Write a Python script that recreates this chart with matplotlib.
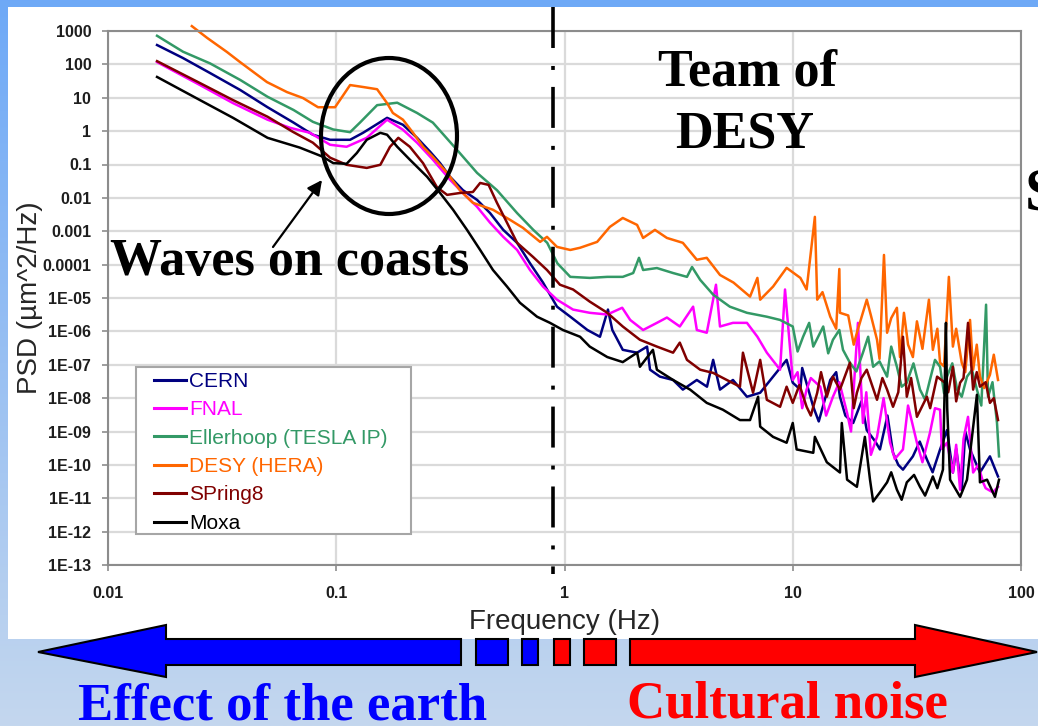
import numpy as np
import matplotlib
matplotlib.use('Agg')
import matplotlib.pyplot as plt
from matplotlib.colors import LinearSegmentedColormap
from matplotlib.patches import Ellipse, Polygon, Rectangle

plt.rcParams['font.family'] = ['Liberation Sans', 'DejaVu Sans']

W, H = 1038, 726

# ---- data (frequency in Hz, PSD in um^2/Hz) ----
cern_f = [0.0164, 0.0213, 0.028, 0.038, 0.050, 0.065, 0.079, 0.094, 0.115, 0.131,
          0.167, 0.196, 0.226, 0.258, 0.285, 0.315, 0.359, 0.414, 0.472, 0.539,
          0.62, 0.706, 0.805, 0.927, 1.06, 1.26, 1.43, 1.55, 1.62, 1.8, 2.08, 2.3,
          2.37, 2.62, 2.99, 3.3, 3.8, 4.21, 4.48, 4.8, 5.47, 6.3, 7.2, 8.2, 9.4, 10,
          10.8, 12.3, 14.6, 16.1, 18.4, 21.1, 24.1, 27.5, 30.4, 33.6, 38.7, 44.2,
          47.4, 50.3, 55, 59.8, 66.1, 73.1, 79.3]
cern_p = [380, 155, 55, 17, 5.2, 1.8, 0.78, 0.55, 0.55, 0.89,
          2.5, 1.55, 0.63, 0.24, 0.11, 0.043, 0.017, 0.0087, 0.0035, 0.0011,
          4.5e-4, 1.1e-4, 2.9e-5, 5.5e-6, 2.75e-6, 1.1e-6, 6.9e-7, 4.5e-6, 1.1e-6, 2.8e-7, 2.3e-7, 3.5e-7,
          7.1e-8, 4.4e-8, 3.5e-8, 1.8e-8, 3.5e-8, 2.2e-8, 1.4e-7, 1.8e-8, 3.5e-8, 1.1e-8, 1.45e-8, 4.4e-8, 1.4e-7, 2.9e-8,
          1.8e-8, 5.5e-9, 3.5e-8, 1.1e-8, 1.8e-9, 1.1e-9, 2.9e-10, 2.3e-10, 7.2e-11, 1.8e-10, 1.45e-10, 2.9e-10,
          1.1e-9, 5.9e-11, 1.8e-11, 2.9e-10, 5.9e-11, 1.8e-10, 4.5e-11]
# extra points on the noisy part of the trace
cern_band_f = [11.0, 13.0, 15.5, 17.0, 20.0, 23.0, 26.0, 29.0, 36.0, 41.0, 52.0, 57.0]
cern_band_p = [8e-8, 2e-9, 6e-8, 3e-9, 8e-9, 5e-10, 3e-9, 1e-10, 5e-10, 6e-11, 3e-10, 1e-9]

fnal_f = [0.0164, 0.0253, 0.0353, 0.050, 0.0627, 0.0767, 0.094, 0.111, 0.136, 0.167,
          0.196, 0.226, 0.265, 0.315, 0.359, 0.414, 0.472, 0.539, 0.62, 0.706,
          0.805, 0.927, 1.09, 1.29, 1.54, 1.79, 1.94, 2.21, 2.54, 2.81, 3.2, 3.66,
          3.8, 4.2, 4.61, 4.8, 5.47, 6.3, 7.0, 7.7, 8.8, 9.25, 10, 11.5, 13.2, 15,
          17.3, 19.3, 20.3, 23.4, 26.7, 30.4, 35, 39.9, 44.2, 47.4, 50.3, 54.1,
          58.6, 61.7, 68.2, 75.3, 79.3]
fnal_p = [117, 24, 6.9, 2.2, 1.26, 0.89, 0.39, 0.34, 0.63, 2.2,
          1.1, 0.45, 0.14, 0.035, 0.014, 0.0054, 0.0018, 6.8e-4, 2.75e-4, 6.9e-5,
          2.2e-5, 8.9e-6, 4.5e-6, 3.6e-6, 3.2e-6, 5.1e-6, 2.2e-6, 1.1e-6, 1.8e-6, 2.6e-6, 1.4e-6, 5.5e-6,
          1.1e-6, 9.1e-7, 2.5e-5, 1.4e-6, 1.8e-6, 1.8e-6, 6.9e-7, 2.3e-7, 7.1e-8, 1.8e-5, 3.5e-8, 1.8e-8, 2.2e-8, 1.1e-8,
          3.6e-9, 1.8e-6, 1.8e-9, 6.9e-10, 4.6e-10, 2.9e-10, 4.6e-10, 9.1e-10, 4.5e-9, 4.6e-10, 5.9e-11, 1.8e-11,
          2.75e-9, 5.9e-11, 3e-11, 1.5e-11, 2.2e-11]
fnal_band_f = [10.5, 11.0, 12.0, 14.0, 16.0, 18.0, 21.0, 22.0, 25.0, 28.0, 32.0, 37.0,
               42.0, 45.0, 52.0, 56.0, 65.0, 70.0]
fnal_band_p = [6e-8, 5e-9, 4e-8, 3e-9, 3e-8, 1e-9, 1.5e-8, 2e-10, 1e-8, 1.5e-10, 6e-9, 1.2e-10,
               5e-9, 3e-10, 4e-10, 6e-10, 1e-10, 2e-11]

eller_f = [0.0164, 0.0213, 0.028, 0.038, 0.050, 0.065, 0.079, 0.097, 0.115, 0.127,
           0.151, 0.185, 0.226, 0.265, 0.338, 0.414, 0.506, 0.62, 0.73, 0.84,
           0.93, 1.06, 1.29, 1.54, 1.8, 2.0, 2.12, 2.21, 2.54, 2.99, 3.44, 3.62,
           3.93, 4.48, 5.3, 6.3, 7.7, 8.8, 10, 11.1, 12.3, 13.6, 15, 16.6, 17.8,
           20.3, 22.5, 25.9, 28.6, 31.6, 36.1, 39.9, 44.2, 47.4, 52.5, 58, 64.1,
           70.3, 71.7, 78.5, 80.1]
eller_p = [720, 240, 107, 34, 10.7, 4.3, 1.9, 1.12, 0.93, 1.8,
           6.0, 7.1, 3.5, 1.8, 0.275, 0.056, 0.017, 0.0035, 0.0011, 4.5e-4,
           1.1e-4, 4.3e-5, 4e-5, 4.3e-5, 4.3e-5, 5.6e-5, 1.6e-4, 6.9e-5, 7.9e-5, 5.6e-5, 4.3e-5, 8.5e-5,
           3.5e-5, 1.26e-5, 5.5e-6, 3.6e-6, 2.75e-6, 2.2e-6, 1.4e-6, 6.9e-7, 3.5e-7, 1.4e-6, 5.6e-7, 2.8e-7, 1.15e-7,
           2.3e-7, 8.7e-8, 4.4e-8, 8.7e-8, 2.9e-8, 1.8e-8, 3.5e-8, 8.7e-8, 4.4e-8, 1.8e-8, 4.4e-8, 1.8e-8,
           6.3e-6, 1.1e-8, 1.8e-9, 1.8e-10]
eller_band_f = [10.5, 11.8, 14.3, 16.0, 19.0, 21.4, 24.0, 27.0, 30.0, 33.8, 38.0, 42.0,
                46.0, 50.0, 55.0, 61.0, 67.0, 75.0]
eller_band_p = [2.5e-7, 1.8e-6, 2.2e-7, 1.1e-6, 6.3e-8, 6.9e-7, 1.26e-7, 3.5e-7, 2.2e-8, 1.1e-7, 9e-9, 1.4e-7,
                1.4e-8, 1.1e-7, 1.1e-8, 7e-8, 6e-9, 3e-8]

desy_f = [0.0233, 0.0272, 0.0332, 0.0379, 0.0497, 0.0608, 0.0715, 0.0832, 0.0988, 0.115,
          0.131, 0.151, 0.167, 0.177, 0.196, 0.217, 0.24, 0.265, 0.306, 0.348,
          0.397, 0.486, 0.577, 0.658, 0.782, 0.838, 0.927, 1.06, 1.17, 1.39, 1.58,
          1.8, 2.08, 2.21, 2.49, 2.81, 3.3, 3.8, 4.2, 4.8, 5.5, 6.5, 7.0, 7.2, 8.2,
          9.4, 10.8, 11.5, 12.5, 12.8, 14.6, 16.0, 16.1, 19.1, 21.1, 23.4, 25.1,
          25.9, 28.6, 29.5, 30.7, 33.6, 39.5, 41.1, 44.2, 48.3, 50.3, 55, 59.8,
          61.7, 66.1, 73.1, 79.3]
desy_p = [1400, 620, 235, 117, 29.5, 14.8, 9.8, 5.2, 5.2, 24,
          21, 18, 6.9, 3.5, 2.2, 0.89, 0.34, 0.17, 0.056, 0.017,
          0.0071, 0.0044, 0.0022, 0.00126, 4.8e-4, 6.8e-4, 3.4e-4, 2.75e-4, 3.2e-4, 4.8e-4, 1.35e-3,
          2.5e-3, 1.55e-3, 6.3e-4, 1.1e-3, 6.3e-4, 4.5e-4, 1.4e-4, 1.6e-4, 4.9e-5, 2.9e-5, 1.1e-5, 4e-5, 8.9e-6, 2.2e-5,
          8e-5, 4e-5, 1.8e-5, 2.7e-3, 8.9e-6, 2.75e-6, 7.4e-5, 3.6e-6, 9.1e-7, 8.9e-6, 5.6e-7, 1.95e-4,
          9.1e-7, 5.1e-6, 1.7e-7, 3.6e-6, 1.7e-7, 8.9e-6, 2.8e-7, 1.15e-7, 4.3e-5, 3.5e-7, 1.15e-7, 2.2e-6,
          7.1e-8, 4.4e-8, 5e-8, 3.5e-8]
desy_band_f = [13.5, 15.5, 17.5, 18.5, 22.0, 24.0, 27.0, 32.0, 35.0, 37.0, 43.0, 46.0,
               52.0, 57.0, 64.0, 69.0, 76.0]
desy_band_p = [1.5e-5, 1.2e-6, 3e-6, 4e-7, 3e-6, 1.5e-7, 2.5e-6, 4e-7, 2e-6, 3e-7, 1.2e-6, 9e-8,
               1.2e-6, 6e-8, 4e-7, 2e-8, 2e-7]

spring_f = [0.0164, 0.0253, 0.0353, 0.050, 0.0646, 0.079, 0.094, 0.111, 0.136, 0.156,
            0.172, 0.187, 0.21, 0.24, 0.276, 0.306, 0.348, 0.397, 0.427, 0.465,
            0.506, 0.56, 0.62, 0.728, 0.838, 0.955, 1.09, 1.29, 1.54, 1.8, 2.14,
            2.54, 2.99, 3.2, 3.44, 3.93, 4.48, 5.14, 5.87, 6.05, 6.7, 7.2, 7.7, 8.8,
            9.4, 10, 11.5, 12.8, 14.1, 15, 16.1, 17.8, 19.1, 21.1, 23.4, 25.9, 27.5,
            30.4, 31.6, 35, 38.7, 42.9, 46.4, 50.3, 54.1, 58.6, 61.7, 66.1, 73.1, 79.3]
spring_p = [125, 27.5, 8.5, 2.7, 0.95, 0.45, 0.16, 0.098, 0.079, 0.098,
            0.34, 0.63, 0.34, 0.11, 0.021, 0.0123, 0.014, 0.015, 0.028, 0.0245,
            0.0071, 0.0018, 4.5e-4, 1.7e-4, 6.9e-5, 2.5e-5, 1.8e-5, 7.8e-6, 3.6e-6, 1.4e-6, 5.6e-7,
            3.5e-7, 2.3e-7, 4.6e-7, 1.4e-7, 7.1e-8, 5.7e-8, 3.5e-8, 2.2e-8, 2.3e-7, 1.45e-8, 1.4e-7, 8.9e-9, 5.5e-9,
            2.2e-8, 7.2e-9, 5.5e-9, 1.45e-8, 1.1e-8, 4.4e-8, 1.8e-8, 1.15e-7, 1.45e-8, 7.1e-8, 8.9e-9, 1.8e-8, 5.5e-9,
            6.9e-7, 1.1e-8, 2.75e-9, 1.1e-8, 4.4e-8, 2.9e-8, 8.7e-8, 2.9e-8, 1.8e-6, 1.8e-8, 2.2e-8, 7.2e-9, 2.2e-9]
spring_band_f = [10.7, 12.0, 13.3, 18.5, 20.0, 24.7, 29.0, 33.0, 40.0, 48.0, 52.0, 56.0,
                 64.0, 70.0, 76.0]
spring_band_p = [2.5e-8, 3e-9, 6e-8, 5e-9, 4e-8, 4e-8, 1.5e-8, 4e-8, 5e-9, 1.5e-8, 8e-9, 4e-8,
                 6e-8, 3e-8, 1e-8]

moxa_f = [0.0164, 0.0253, 0.0353, 0.050, 0.0693, 0.0875, 0.097, 0.111, 0.123, 0.136,
          0.156, 0.167, 0.185, 0.21, 0.25, 0.285, 0.325, 0.374, 0.427, 0.486,
          0.56, 0.638, 0.758, 0.864, 0.984, 1.17, 1.29, 1.54, 1.8, 2.08, 2.14,
          2.44, 2.54, 2.99, 3.55, 4.2, 4.94, 5.87, 6.5, 7.05, 7.2, 8.2, 9.4, 10,
          10.4, 12.3, 12.5, 14.1, 16.1, 16.4, 17.3, 19.1, 20.7, 21.8, 24.1, 25.9,
          28.6, 31.6, 36.1, 41.1, 45.5, 46.9, 48.9, 54.1, 58, 64.1, 66.1, 71, 76.9, 80.1]
moxa_p = [42, 8.5, 2.5, 0.63, 0.32, 0.17, 0.11, 0.105, 0.22, 0.55,
          0.89, 0.78, 0.34, 0.14, 0.043, 0.014, 0.0044, 0.0011, 2.75e-4, 6.9e-5,
          2.2e-5, 7.2e-6, 2.75e-6, 1.8e-6, 1.1e-6, 6.9e-7, 3.5e-7, 1.7e-7, 1.2e-7, 2.3e-7, 8.7e-8,
          2.8e-7, 7.1e-8, 3.5e-8, 1.8e-8, 7.2e-9, 4.5e-9, 2.2e-9, 2.2e-9, 1.1e-8, 1.4e-9, 6.9e-10, 4.6e-10, 1.8e-9,
          2.9e-10, 2.3e-10, 6.9e-10, 1.2e-10, 5.9e-11, 1.8e-9, 3.6e-11, 2.2e-11, 6.9e-10, 3.6e-11, 1.5e-11, 3e-11,
          1.8e-11, 3e-11, 2.2e-11, 4.5e-11, 7.2e-11, 1.8e-6, 3.6e-11, 1.1e-11, 3.6e-11, 1.26e-8, 3e-11, 3.6e-11, 1.1e-11, 3.6e-11]
moxa_band_f = [22.5, 27.0, 30.0, 34.0, 38.0, 43.0, 46.3, 47.5]
moxa_band_p = [8e-12, 6e-11, 9e-12, 5e-11, 1.2e-11, 2e-11, 2e-8, 5e-9]

names = ['CERN', 'FNAL', 'Ellerhoop (TESLA IP)', 'DESY (HERA)', 'SPring8', 'Moxa']
colors = ['#000080', '#ff00ff', '#339966', '#ff6600', '#800000', '#000000']
freqs = [cern_f + cern_band_f, fnal_f + fnal_band_f, eller_f + eller_band_f,
         desy_f + desy_band_f, spring_f + spring_band_f, moxa_f + moxa_band_f]
psds = [cern_p + cern_band_p, fnal_p + fnal_band_p, eller_p + eller_band_p,
        desy_p + desy_band_p, spring_p + spring_band_p, moxa_p + moxa_band_p]

x_ticks = [0.01, 0.1, 1, 10, 100]
x_tick_labels = ['0.01', '0.1', '1', '10', '100']
y_ticks = [1e3, 1e2, 1e1, 1, 1e-1, 1e-2, 1e-3, 1e-4, 1e-5, 1e-6, 1e-7,
           1e-8, 1e-9, 1e-10, 1e-11, 1e-12, 1e-13]
y_tick_labels = ['1000', '100', '10', '1', '0.1', '0.01', '0.001', '0.0001',
                 '1E-05', '1E-06', '1E-07', '1E-08', '1E-09', '1E-10',
                 '1E-11', '1E-12', '1E-13']

fig = plt.figure(figsize=(W / 100, H / 100), dpi=100)

# slide background: blue gradient with a white panel
bg = fig.add_axes([0, 0, 1, 1], zorder=0)
grad = np.linspace(0, 1, 256).reshape(-1, 1)
cmap = LinearSegmentedColormap.from_list('bg', ['#6ea9f7', '#c4d7ee'])
bg.imshow(grad, cmap=cmap, aspect='auto', extent=[0, W, H, 0])
bg.add_patch(Rectangle((8, 7), W - 8, 632, facecolor='white', edgecolor='none'))
bg.set_xlim(0, W)
bg.set_ylim(H, 0)
bg.axis('off')

# the chart
ax = fig.add_axes([108 / W, 1 - 565 / H, 913 / W, 534 / H], zorder=1)
ax.set_xscale('log')
ax.set_yscale('log')
lines = []
for name, f, p, c in zip(names, freqs, psds, colors):
    order = np.argsort(f)
    ln, = ax.plot(np.asarray(f)[order], np.asarray(p)[order], color=c, lw=1.8,
                  clip_on=False, label=name)
    lines.append(ln)
ax.set_xlim(0.01, 100)
ax.set_ylim(1e-13, 1000)
ax.set_xticks(x_ticks)
ax.set_xticklabels(x_tick_labels)
ax.set_yticks(y_ticks)
ax.set_yticklabels(y_tick_labels)
ax.minorticks_off()
ax.grid(True, color='#dadada', lw=1.6)
ax.set_axisbelow(True)
for s in ax.spines.values():
    s.set_color('#8c8c8c')
    s.set_linewidth(1.5)
ax.tick_params(direction='out', length=4, width=1.2, color='#8c8c8c',
               labelsize=11.5, labelcolor='#1e1e1e')
ax.tick_params(axis='y', pad=8)
ax.tick_params(axis='x', pad=11)
for t in ax.get_xticklabels() + ax.get_yticklabels():
    t.set_fontweight('bold')

ax.set_xlabel('Frequency (Hz)', fontsize=20, color='#262626', va='center')
ax.xaxis.set_label_coords(0.5, (565 - 622) / 534)
ax.set_ylabel('PSD (µm^2/Hz)', fontsize=20, color='#262626', va='center',
              rotation_mode='anchor')
ax.yaxis.set_label_coords((30 - 108) / 913, 0.5)

# legend with a hand-placed frame
ax.add_patch(Rectangle((136 / W, 1 - 534 / H), 275 / W, 167 / H,
                       transform=fig.transFigure, facecolor='white',
                       edgecolor='#a6a6a6', lw=1.5, zorder=4, clip_on=False))
leg = ax.legend(handles=lines, loc='upper left',
                bbox_to_anchor=(154 / W, 1 - 372 / H), bbox_transform=fig.transFigure,
                frameon=False, borderpad=0, borderaxespad=0, handlelength=1.55,
                handletextpad=0.15, labelspacing=0.45, prop={'size': 15})
leg.set_zorder(5)
for txt, ln, c in zip(leg.get_texts(), leg.get_lines(), colors):
    txt.set_color(c)
    ln.set_linewidth(2.2)

# slide annotations in pixel coordinates
ov = fig.add_axes([0, 0, 1, 1], zorder=3)
ov.set_xlim(0, W)
ov.set_ylim(H, 0)
ov.axis('off')

ov.plot([553, 553], [7, 574], color='black', lw=2.6,
        linestyle=(0, (11.35, 4.98, 1.1, 4.7)), dash_capstyle='butt')
ov.add_patch(Ellipse((389, 136), 136, 156, fill=False, lw=3, ec='black'))
ov.annotate('', xy=(322, 180), xytext=(273, 247),
            arrowprops=dict(arrowstyle='-|>', color='black', lw=1.6,
                            mutation_scale=22, shrinkA=0, shrinkB=0))

serif = dict(family='Liberation Serif', weight='bold')
ov.text(110, 275, 'Waves on coasts', fontsize=37.5, ha='left', va='baseline', **serif)
ov.text(748, 85, 'Team of', fontsize=37.5, ha='center', va='baseline', **serif)
ov.text(745, 148, 'DESY', fontsize=37.5, ha='center', va='baseline', **serif)
ov.text(1025, 209, 'S', fontsize=44, ha='left', va='baseline', **serif)
ov.text(283, 719, 'Effect of the earth', fontsize=38, color='#0000ff',
        ha='center', va='baseline', **serif)
ov.text(787, 718, 'Cultural noise', fontsize=38, color='#ff0000',
        ha='center', va='baseline', **serif)

# frequency-range arrows under the chart
ov.add_patch(Polygon([(38, 652), (166, 625), (166, 639), (461, 639), (461, 665),
                      (166, 665), (166, 677)], closed=True, fc='#0000ff', ec='black', lw=1.5))
for x0, w, c in [(476, 32, '#0000ff'), (522, 16, '#0000ff'),
                 (554, 16, '#ff0000'), (584, 32, '#ff0000')]:
    ov.add_patch(Rectangle((x0, 639), w, 26, fc=c, ec='black', lw=1.5))
ov.add_patch(Polygon([(630, 639), (915, 639), (915, 625), (1037, 652), (915, 677),
                      (915, 665), (630, 665)], closed=True, fc='#ff0000', ec='black', lw=1.5))

fig.savefig('out.png', dpi=100)
